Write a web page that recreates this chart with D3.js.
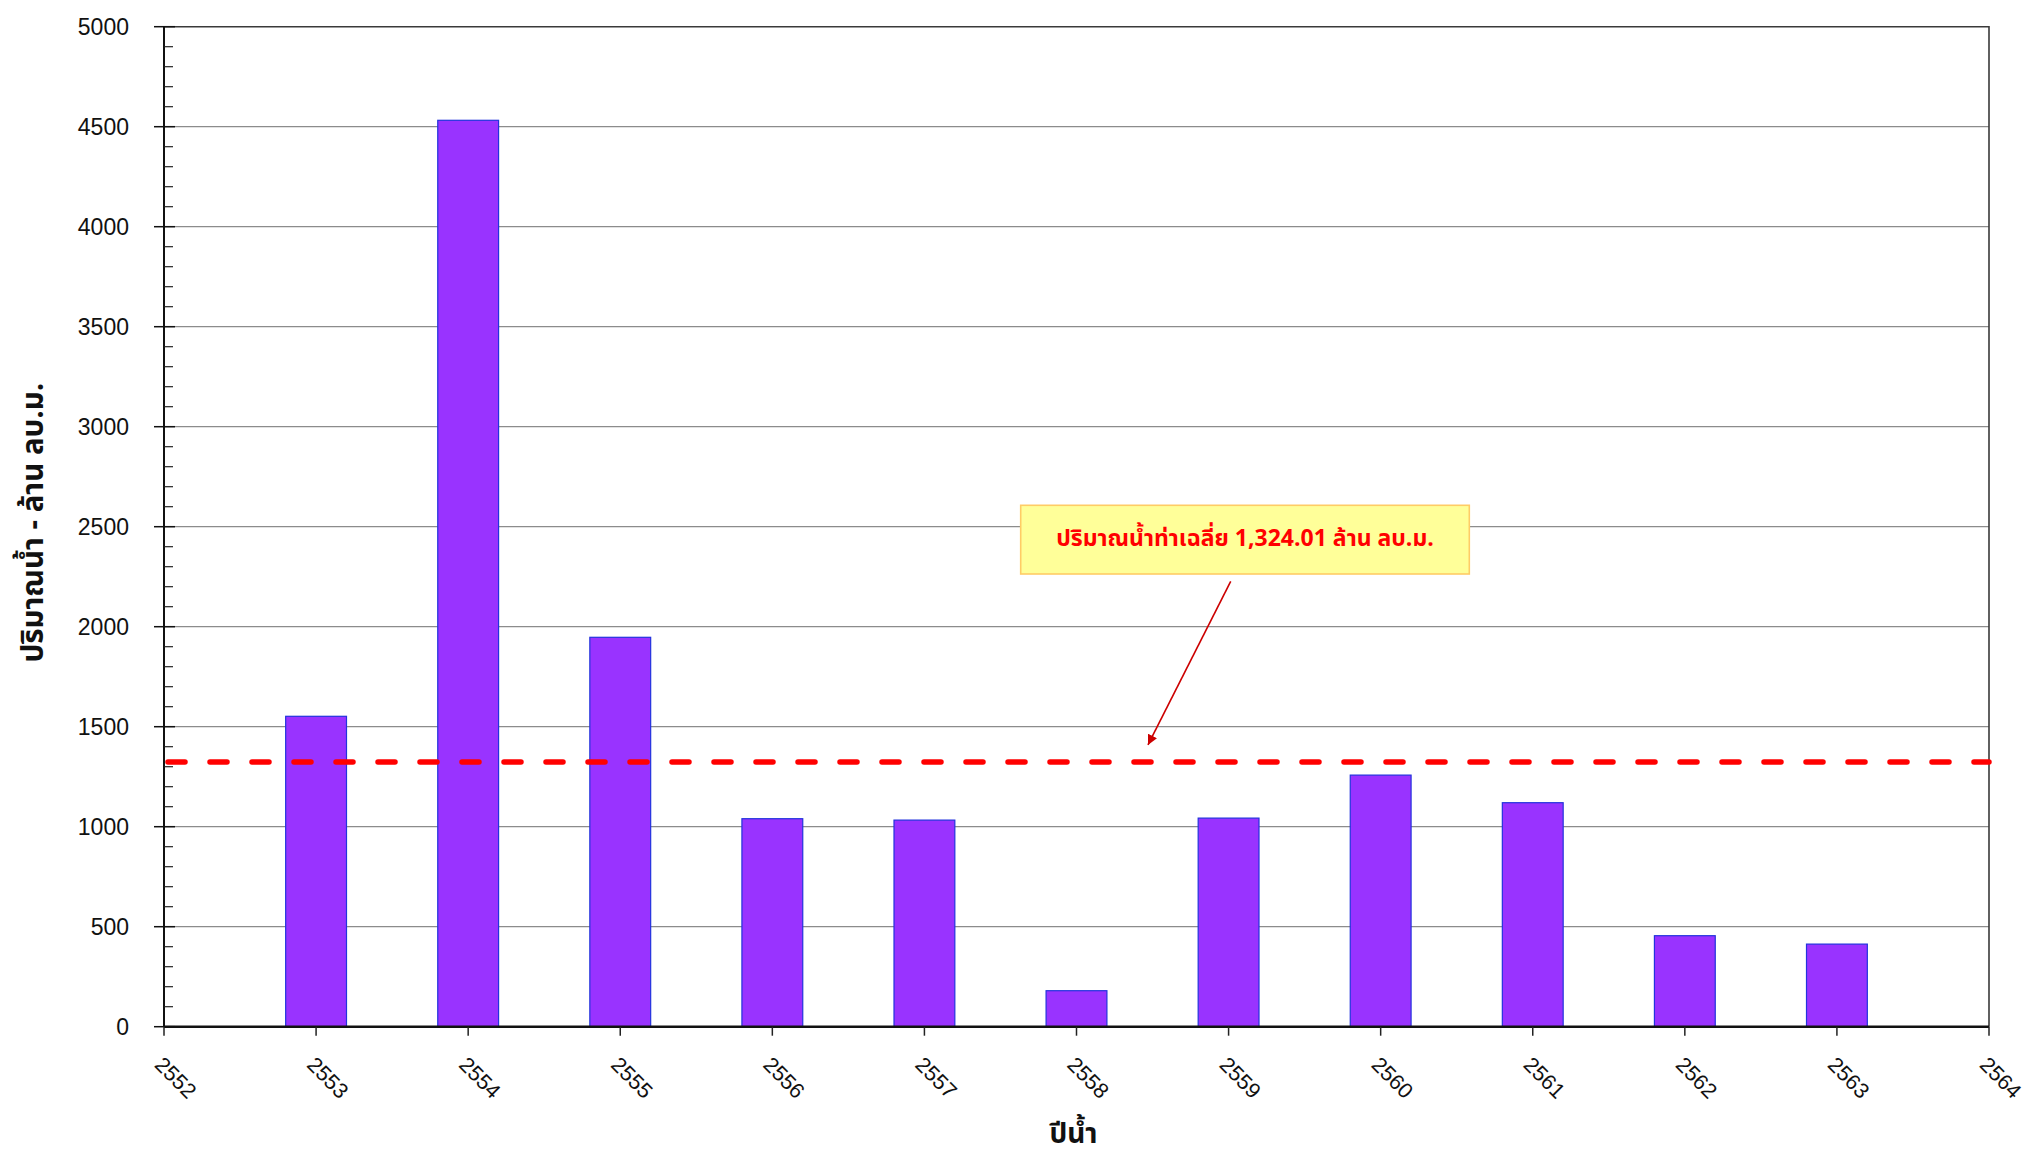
<!DOCTYPE html>
<html>
<head>
<meta charset="utf-8">
<script src="https://cdn.jsdelivr.net/npm/d3@7"></script>
<style>
  body { margin: 0; background: #fff; }
  svg { display: block; }
</style>
</head>
<body>
<div id="chart"></div>
<script>
// water year (Thai B.E.) and annual runoff volume, million cu.m.
var years = [2553, 2554, 2555, 2556, 2557, 2558, 2559, 2560, 2561, 2562, 2563];
var volumes = [1552, 4532, 1947, 1040, 1033, 180, 1043, 1258, 1120, 455, 413];
var averageVolume = 1324.01;
var xTicks = [2552, 2553, 2554, 2555, 2556, 2557, 2558, 2559, 2560, 2561, 2562, 2563, 2564];
var yTicks = [0, 500, 1000, 1500, 2000, 2500, 3000, 3500, 4000, 4500, 5000];

var yTitle = "ปริมาณน้ำ  -  ล้าน ลบ.ม.";
var xTitle = "ปีน้ำ";
var noteText = "ปริมาณน้ำท่าเฉลี่ย 1,324.01 ล้าน ลบ.ม.";

(function () {
  var width = 2027, height = 1159;
  var margin = { top: 26.7, right: 38, bottom: 132.3, left: 164 };
  var iW = width - margin.left - margin.right;
  var iH = height - margin.top - margin.bottom;
  var thai = "'Noto Sans Thai', 'Noto Serif Thai', Tahoma, 'DejaVu Sans', sans-serif";

  var svg = d3.select("#chart").append("svg")
    .attr("width", width)
    .attr("height", height);

  var g = svg.append("g")
    .attr("transform", "translate(" + margin.left + "," + margin.top + ")");

  var x = d3.scaleLinear().domain([2552, 2564]).range([0, iW]);
  var y = d3.scaleLinear().domain([0, 5000]).range([iH, 0]);
  var barW = (x(2553) - x(2552)) * 0.4;

  // gridlines
  g.append("g")
    .selectAll("line")
    .data(yTicks.filter(function (d) { return d > 0 && d < 5000; }))
    .join("line")
    .attr("x1", 0).attr("x2", iW)
    .attr("y1", function (d) { return y(d); })
    .attr("y2", function (d) { return y(d); })
    .attr("stroke", "#8c8c8c")
    .attr("stroke-width", 1.3);

  // frame top + right
  g.append("path")
    .attr("d", "M0," + y(5000) + "H" + iW + "V" + iH)
    .attr("fill", "none")
    .attr("stroke", "#3a3a3a")
    .attr("stroke-width", 1.6);

  // bars
  g.append("g")
    .selectAll("rect")
    .data(years)
    .join("rect")
    .attr("x", function (d) { return x(d) - barW / 2; })
    .attr("y", function (d, i) { return y(volumes[i]); })
    .attr("width", barW)
    .attr("height", function (d, i) { return iH - y(volumes[i]); })
    .attr("fill", "#9933ff")
    .attr("stroke", "#2233dd")
    .attr("stroke-width", 1.2);

  // average line
  g.append("line")
    .attr("x1", 4).attr("x2", iW)
    .attr("y1", y(averageVolume)).attr("y2", y(averageVolume))
    .attr("stroke", "#ff0000")
    .attr("stroke-width", 5.5)
    .attr("stroke-linecap", "round")
    .attr("stroke-dasharray", "17,25");

  // y axis: major ticks cross the axis, minor ticks inside
  var yAxis = g.append("g");
  yAxis.append("line")
    .attr("x1", 0).attr("x2", 0).attr("y1", 0).attr("y2", iH)
    .attr("stroke", "#111").attr("stroke-width", 2);
  yAxis.selectAll(".minor")
    .data(d3.range(0, 5001, 100).filter(function (d) { return d % 500 !== 0; }))
    .join("line")
    .attr("class", "minor")
    .attr("x1", 0).attr("x2", 9)
    .attr("y1", function (d) { return y(d); })
    .attr("y2", function (d) { return y(d); })
    .attr("stroke", "#222").attr("stroke-width", 1.2);
  yAxis.selectAll(".major")
    .data(yTicks)
    .join("line")
    .attr("class", "major")
    .attr("x1", -10).attr("x2", 11)
    .attr("y1", function (d) { return y(d); })
    .attr("y2", function (d) { return y(d); })
    .attr("stroke", "#111").attr("stroke-width", 1.5);
  yAxis.selectAll("text")
    .data(yTicks)
    .join("text")
    .attr("x", -35)
    .attr("y", function (d) { return y(d); })
    .attr("dy", "0.35em")
    .attr("text-anchor", "end")
    .attr("font-family", "Arial, 'Liberation Sans', sans-serif")
    .attr("font-size", 23)
    .attr("fill", "#111")
    .text(function (d) { return d; });

  // x axis
  var xAxis = g.append("g").attr("transform", "translate(0," + iH + ")");
  xAxis.append("line")
    .attr("x1", 0).attr("x2", iW)
    .attr("stroke", "#111").attr("stroke-width", 2.5);
  xAxis.selectAll(".tick")
    .data(xTicks)
    .join("line")
    .attr("class", "tick")
    .attr("x1", function (d) { return x(d); })
    .attr("x2", function (d) { return x(d); })
    .attr("y1", 0).attr("y2", 9)
    .attr("stroke", "#222").attr("stroke-width", 1.5);
  xAxis.selectAll("text")
    .data(xTicks)
    .join("text")
    .attr("transform", function (d) {
      return "translate(" + (x(d) + 1) + ",28) rotate(45)";
    })
    .attr("dy", "0.75em")
    .attr("font-family", "Arial, 'Liberation Sans', sans-serif")
    .attr("font-size", 21.5)
    .attr("fill", "#111")
    .text(function (d) { return d; });

  // axis titles
  svg.append("text")
    .attr("transform", "translate(43," + (margin.top + y(2520)) + ") rotate(-90)")
    .attr("text-anchor", "middle")
    .attr("font-family", thai)
    .attr("font-weight", "bold")
    .attr("font-size", 29.5)
    .attr("fill", "#111")
    .text(yTitle);

  svg.append("text")
    .attr("x", margin.left + iW / 2 - 3)
    .attr("y", 1143)
    .attr("text-anchor", "middle")
    .attr("font-family", thai)
    .attr("font-weight", "bold")
    .attr("font-size", 28)
    .attr("fill", "#111")
    .text(xTitle);

  // annotation box + arrow pointing to the average line
  var note = g.append("g");
  var boxX = 856.7, boxY = 478.6, boxW = 448.6, boxH = 68.7;
  note.append("rect")
    .attr("x", boxX).attr("y", boxY)
    .attr("width", boxW).attr("height", boxH)
    .attr("fill", "#ffff99")
    .attr("stroke", "#ffcc66")
    .attr("stroke-width", 1.6);
  note.append("text")
    .attr("x", boxX + boxW / 2)
    .attr("y", boxY + 41)
    .attr("text-anchor", "middle")
    .attr("font-family", thai)
    .attr("font-weight", "bold")
    .attr("font-size", 23)
    .attr("fill", "#ff0000")
    .text(noteText);

  svg.append("defs").append("marker")
    .attr("id", "arrowHead")
    .attr("viewBox", "0 0 10 10")
    .attr("refX", 10).attr("refY", 5)
    .attr("markerWidth", 10).attr("markerHeight", 10)
    .attr("markerUnits", "userSpaceOnUse")
    .attr("orient", "auto")
    .append("path")
    .attr("d", "M0,0 L10,5 L0,10 Z")
    .attr("fill", "#cc0000");
  var tipX = x(2558.47), tipY = y(averageVolume) - 17;
  note.append("line")
    .attr("x1", boxX + 210).attr("y1", boxY + 76)
    .attr("x2", tipX).attr("y2", tipY)
    .attr("stroke", "#cc0000")
    .attr("stroke-width", 1.6)
    .attr("marker-end", "url(#arrowHead)");
})();
</script>
</body>
</html>
